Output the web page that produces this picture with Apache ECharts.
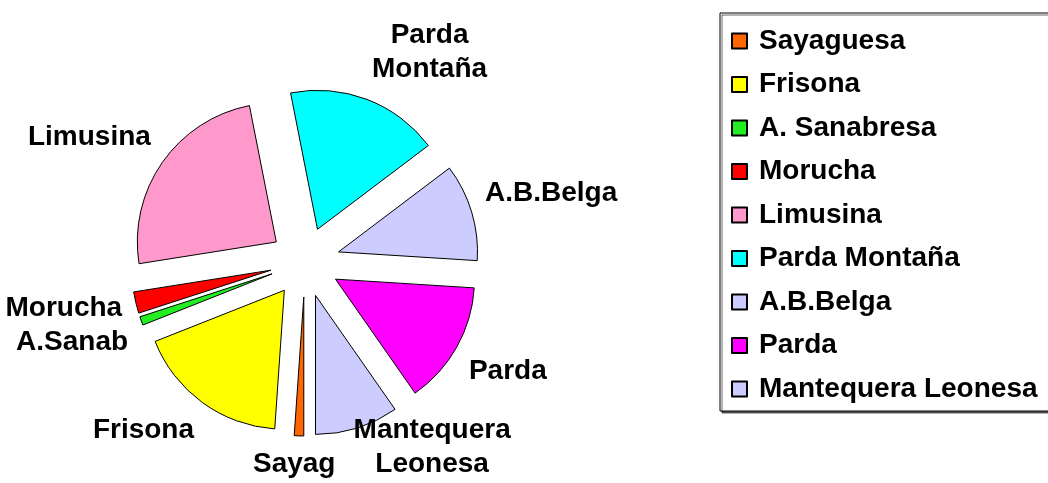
<!DOCTYPE html>
<html>
<head>
    <meta charset="UTF-8">
    <title>Razas</title>
    <script src="https://cdn.jsdelivr.net/npm/echarts@6/dist/echarts.min.js"></script>
    <style>
        body { margin: 0; background: #fff; }
        #chart { width: 1048px; height: 483px; }
    </style>
</head>
<body>
    <div id="chart"></div>
    <script>
        // razas (orden de la leyenda)
        var razas = ['Sayaguesa', 'Frisona', 'A. Sanabresa', 'Morucha', 'Limusina',
            'Parda Montaña', 'A.B.Belga', 'Parda', 'Mantequera Leonesa'];
        // etiquetas junto a la tarta (recortadas como en el original)
        var etiquetas = ['Sayag', 'Frisona', 'A.Sanab', 'Morucha', 'Limusina',
            'Parda\nMontaña', 'A.B.Belga', 'Parda', 'Mantequera\nLeonesa'];
        // porcentajes estimados
        var valores = [1.1, 17.9, 1.0, 2.5, 24.4, 17.8, 11.3, 14.3, 9.7];
        var colores = ['#FF6600', '#FFFF00', '#22EE22', '#FF0000', '#FF99CC',
            '#00FFFF', '#CCCCFF', '#FF00FF', '#CCCCFF'];

        var ANCHO = 1048, ALTO = 483;
        var centro = [305, 262];
        var radio = 139;
        var separacion = 35;
        var inicio = 180; // grados desde las 12, sentido horario

        var chart = echarts.init(document.getElementById('chart'));

        var total = valores.reduce(function (a, b) { return a + b; }, 0);

        // angulo medio de cada porcion (grados desde las 12, sentido horario)
        function anguloMedio(i) {
            var acc = 0;
            for (var j = 0; j < i; j++) acc += valores[j];
            return inicio + (acc + valores[i] / 2) / total * 360;
        }

        function sat(v) { return Math.max(-1, Math.min(1, v * 3)); }

        // coloca cada etiqueta fuera de la porcion separada, como hace Excel
        var colocadas = [];
        function colocarEtiqueta(p) {
            if (p.dataIndex === 0) colocadas = [];
            var a = anguloMedio(p.dataIndex) * Math.PI / 180;
            var s = Math.sin(a), c = -Math.cos(a);
            var w = p.labelRect.width, h = p.labelRect.height;
            var d = separacion + radio + 14;
            var x = centro[0] + d * s + w / 2 * sat(s);
            var y = centro[1] + d * c + h / 2 * sat(c);
            x = Math.max(w / 2 + 2, Math.min(ANCHO - w / 2 - 2, x));
            y = Math.max(h / 2 + 2, Math.min(ALTO - h / 2 - 2, y));
            // si choca con una etiqueta ya puesta, se aparta en vertical
            colocadas.forEach(function (o) {
                var solapaX = Math.abs(x - o.x) < (w + o.w) / 2;
                var solapaY = Math.abs(y - o.y) < (h + o.h) / 2;
                if (solapaX && solapaY) {
                    y = y < o.y ? o.y - (h + o.h) / 2 : o.y + (h + o.h) / 2;
                }
            });
            colocadas.push({ x: x, y: y, w: w, h: h });
            return { x: x, y: y, align: 'center', verticalAlign: 'middle' };
        }

        var fuente = 'Liberation Sans, Arial, sans-serif';

        var comun = {
            type: 'pie',
            center: centro,
            radius: radio,
            startAngle: 90 - inicio,
            clockwise: true,
            emphasis: { disabled: true }
        };

        chart.setOption({
            animation: false,
            legend: {
                orient: 'vertical',
                left: 720,
                top: 13,
                padding: [13, 60, 7, 11],
                itemWidth: 15,
                itemHeight: 15,
                itemGap: 13.5,
                borderColor: '#000',
                borderWidth: 1,
                backgroundColor: '#fff',
                shadowColor: 'rgba(0,0,0,0.6)',
                shadowOffsetX: 2,
                shadowOffsetY: 2,
                icon: 'rect',
                selectedMode: false,
                textStyle: {
                    fontFamily: fuente,
                    fontWeight: 'bold',
                    fontSize: 28,
                    lineHeight: 30,
                    padding: [0, 0, 0, 7],
                    color: '#000'
                },
                data: razas
            },
            series: [
                // porciones separadas
                Object.assign({}, comun, {
                    selectedMode: 'multiple',
                    selectedOffset: separacion,
                    itemStyle: { borderColor: '#000', borderWidth: 1 },
                    label: { show: false },
                    labelLine: { show: false },
                    data: razas.map(function (r, i) {
                        return { name: r, value: valores[i], selected: true, itemStyle: { color: colores[i] } };
                    })
                }),
                // solo las etiquetas
                Object.assign({}, comun, {
                    silent: true,
                    itemStyle: { color: 'rgba(0,0,0,0)', borderWidth: 0 },
                    label: {
                        position: 'outside',
                        overflow: 'none',
                        formatter: function (p) { return etiquetas[p.dataIndex]; },
                        fontFamily: fuente,
                        fontWeight: 'bold',
                        fontSize: 28,
                        lineHeight: 34,
                        color: '#000'
                    },
                    labelLine: { show: false },
                    labelLayout: colocarEtiqueta,
                    data: razas.map(function (r, i) {
                        return { name: r, value: valores[i] };
                    })
                })
            ]
        });
    </script>
</body>
</html>
